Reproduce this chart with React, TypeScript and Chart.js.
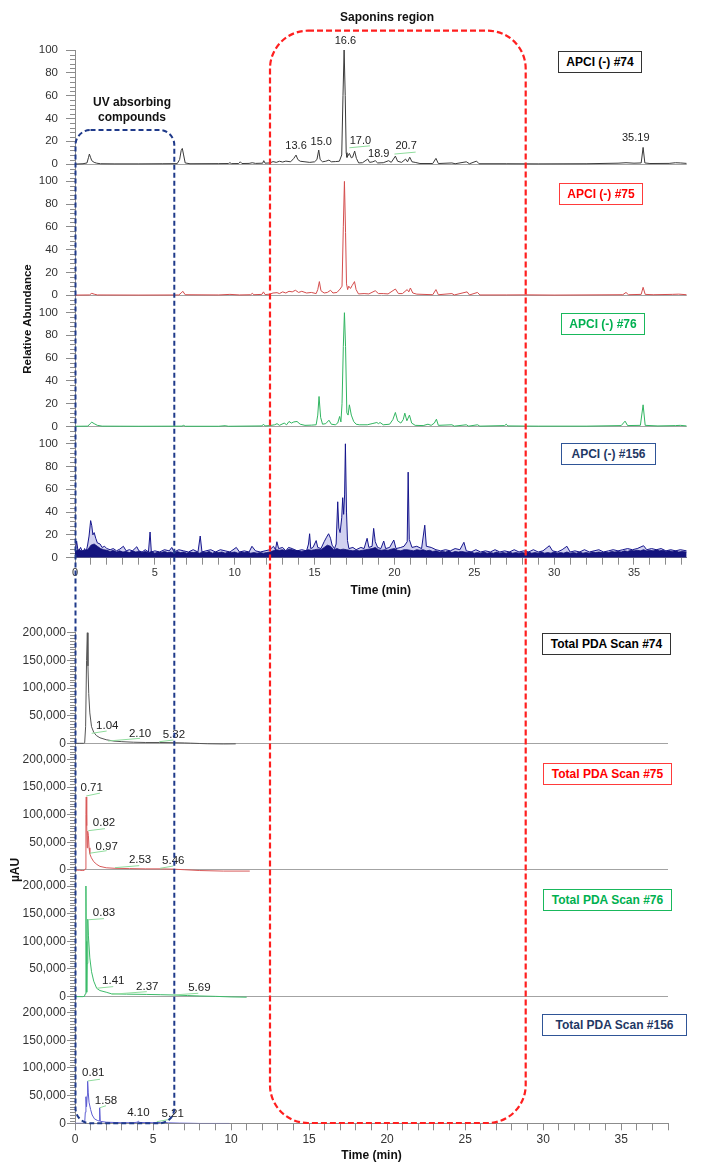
import React, { useEffect, useRef } from 'react';
import { Chart, registerables } from 'chart.js';
Chart.register(...registerables);

const FONT = '"Liberation Sans", Arial, Helvetica, sans-serif';

// ---------- axis tick values ----------
const TIME_MAJOR = [0, 5, 10, 15, 20, 25, 30, 35];
const APCI_MAJOR = [0, 20, 40, 60, 80, 100];
const PDA_MAJOR = [0, 50000, 100000, 150000, 200000];
const TOP_X_MAX = 38.3;
const BOT_X_MAX = 38;

type P = [number, number];

// ---------- APCI (-) traces: [time (min), relative abundance] ----------
const apci74: P[] = [[0,0],[0.5,0.3],[0.75,1],[0.85,6],[0.9,8.8],[0.97,6],[1.05,3],[1.2,1.5],[1.36,0.8],[1.6,0.3],[2.5,0.2],[4,0.2],[5.5,0.3],[6.4,0.4],[6.55,4],[6.65,12],[6.72,13.7],[6.8,8],[6.9,1],[7.2,0.3],[9,0.4],[9.6,0.5],[9.7,1.2],[9.8,0.4],[10.25,0.5],[10.35,2],[10.45,0.5],[10.9,0.6],[11.1,1.2],[11.3,0.6],[11.75,0.8],[11.82,3],[11.9,0.8],[12.2,1],[12.4,2.2],[12.6,1.5],[12.8,2.5],[13.0,1.8],[13.2,2.6],[13.5,2],[13.7,5],[13.84,7.9],[13.95,4],[14.1,2.5],[14.4,2],[14.7,1.5],[15.0,2],[15.15,4],[15.26,12.3],[15.35,4],[15.5,2],[15.7,2.5],[15.9,3.5],[16.05,2],[16.3,2.2],[16.55,2.5],[16.7,8],[16.78,60],[16.85,100],[16.92,60],[16.98,10],[17.03,5.9],[17.18,9.4],[17.3,5.5],[17.38,6],[17.51,11.4],[17.62,5],[17.76,1],[18.0,1.2],[18.33,4.4],[18.45,1.5],[18.65,2],[18.8,3],[18.95,1],[19.3,1.2],[19.64,3],[19.8,1.5],[20.06,7],[20.2,2.5],[20.45,1.5],[20.7,4.4],[20.82,2],[20.96,6],[21.1,2],[21.3,1.5],[21.6,0.5],[22.4,0.5],[22.6,5],[22.75,0.5],[23.6,1],[23.8,0.3],[24.5,2],[24.7,0.3],[25.14,2.6],[25.3,0.3],[27,0.3],[29,0.2],[32,0.3],[34,0.8],[34.5,1.2],[35.0,0.8],[35.45,1],[35.57,14.6],[35.68,1],[36,0.5],[37.2,0.6],[37.6,1.2],[37.9,1],[38.3,0.6]];

const apci75: P[] = [[0,0.2],[0.9,0.3],[1.05,1.7],[1.2,1],[1.4,0.3],[4,0.2],[6.5,0.3],[6.65,2],[6.75,3.5],[6.9,0.5],[9,0.3],[9.7,0.8],[10.3,0.3],[11.0,0.5],[11.1,1.7],[11.2,0.5],[11.7,0.8],[11.8,3],[11.9,0.6],[12.2,1],[12.4,2],[12.65,2.3],[12.8,1.5],[13.0,3],[13.2,2],[13.4,3.5],[13.6,3],[13.8,4.4],[14.0,2.5],[14.2,3.5],[14.5,2],[14.8,2.5],[15.1,1.5],[15.2,5],[15.3,12],[15.4,4],[15.6,2],[15.8,2.5],[16.0,4.4],[16.15,2],[16.4,2.5],[16.6,5.5],[16.72,8],[16.8,60],[16.87,100],[16.94,55],[17.0,10],[17.07,5],[17.14,8],[17.25,6],[17.35,8.5],[17.5,12],[17.6,5],[17.75,1.2],[18.1,1.5],[18.4,1.2],[18.8,4],[19.0,1.5],[19.3,1.5],[19.6,1.2],[20.06,5.5],[20.25,1.5],[20.5,1.5],[20.8,5],[20.9,3],[21.0,6.4],[21.15,2],[21.4,1],[22.4,0.5],[22.6,5],[22.75,0.5],[23.6,1.5],[23.75,0.3],[24.55,3],[24.7,0.3],[25.2,2.5],[25.35,0.3],[27,0.3],[28.2,0.4],[30,0.2],[34.3,0.5],[34.5,2.5],[34.65,0.5],[35.45,0.8],[35.57,7],[35.7,0.8],[36.2,0.5],[37.4,0.8],[37.8,1],[38.3,0.5]];

const apci76: P[] = [[0,0.2],[0.8,0.3],[0.95,2.5],[1.05,3.8],[1.2,2.5],[1.4,1],[1.7,0.3],[4,0.2],[6.7,0.3],[6.8,1],[6.9,0.2],[9.0,0.2],[9.4,0.7],[9.6,0.2],[11.7,0.5],[11.8,2],[11.9,0.5],[12.2,0.8],[12.5,1.5],[12.65,2.5],[12.8,1],[13.1,3],[13.25,1.5],[13.4,4.4],[13.55,3],[13.7,4],[13.9,4.4],[14.1,2],[14.4,1],[14.8,1.2],[15.1,1.5],[15.2,10],[15.28,26.3],[15.38,8],[15.5,2],[15.7,2.5],[15.9,5.5],[16.05,2],[16.3,1.5],[16.45,3],[16.57,8.8],[16.65,4],[16.72,20],[16.8,70],[16.87,100],[16.94,70],[17.02,12],[17.1,10],[17.18,19],[17.3,10],[17.45,4.4],[17.6,2],[17.8,1.5],[18.3,1.5],[18.6,2.5],[18.9,3.5],[19.0,2.5],[19.1,3.5],[19.3,1.5],[19.7,2],[19.9,6],[20.06,12.3],[20.2,5],[20.4,3],[20.55,6],[20.65,11.7],[20.78,5],[20.94,10],[21.08,3],[21.3,1],[21.8,0.8],[22.1,2],[22.3,1],[22.5,3],[22.63,6.4],[22.75,1],[23.6,1.5],[23.75,0.3],[24.5,1.5],[24.65,0.3],[25.2,1.5],[25.35,0.3],[26.9,0.8],[27.0,2],[27.1,0.5],[29,0.3],[32,0.3],[34.2,0.8],[34.44,4.7],[34.6,0.8],[35.4,1],[35.57,19],[35.7,1],[36.5,0.5],[37.6,0.8],[37.9,1],[38.3,0.5]];

const apci156: P[] = [[0,3],[0.1,14.6],[0.2,5],[0.35,9],[0.5,4],[0.6,8],[0.7,5],[0.8,12],[0.88,19],[0.98,32.5],[1.05,28],[1.12,20],[1.2,22],[1.3,17],[1.4,13],[1.57,12],[1.7,9],[1.85,10],[1.99,8],[2.2,7],[2.4,8],[2.6,6],[2.8,7.5],[3.03,10],[3.2,6],[3.4,7],[3.6,6],[3.87,9.6],[4.0,6],[4.2,5],[4.4,7],[4.6,5],[4.7,22.5],[4.78,5],[5.0,6],[5.3,5],[5.6,7],[5.9,6],[6.06,9],[6.2,5],[6.5,7],[6.8,6],[7.1,5],[7.4,7],[7.7,5],[7.84,19],[7.95,5],[8.2,6],[8.5,7],[8.8,5],[9.1,7],[9.4,6],[9.7,5],[10.1,9],[10.3,5],[10.6,6],[10.9,5],[11.08,10],[11.3,6],[11.6,5],[11.9,6],[12.2,7],[12.43,10],[12.55,7],[12.64,14],[12.75,8],[13.0,9],[13.2,6],[13.37,9],[13.6,8],[13.9,6],[14.2,7],[14.5,6],[14.62,12],[14.69,21],[14.76,8],[14.9,9],[15.1,15],[15.2,9],[15.4,8],[15.6,14],[15.75,18],[15.88,21],[16.0,17],[16.1,11],[16.25,8],[16.35,12],[16.45,49],[16.52,26],[16.6,22],[16.7,35],[16.76,52.6],[16.82,38],[16.88,55],[16.93,100],[17.0,40],[17.06,15],[17.15,8],[17.4,9],[17.6,7],[17.9,9],[18.1,8],[18.29,17],[18.4,9],[18.6,10],[18.7,25.7],[18.8,14],[18.95,9],[19.15,8],[19.33,14.6],[19.45,8],[19.7,9],[19.96,15.5],[20.1,8],[20.4,9],[20.6,10],[20.8,14],[20.86,75],[20.93,16],[21.1,9],[21.4,10],[21.7,8],[21.9,28.5],[22.0,10],[22.3,9],[22.6,7],[22.9,6],[23.2,7],[23.5,6],[23.8,8],[24.1,7],[24.35,13.5],[24.5,6],[24.8,5],[25.1,7],[25.4,5],[25.7,6],[26.0,5],[26.3,7],[26.6,5],[26.9,6],[27.2,5],[27.5,7],[27.8,5],[28.1,6],[28.4,5],[28.7,7],[29.0,5],[29.3,6],[29.7,10.5],[29.9,6],[30.2,5],[30.5,7],[30.8,10],[31.0,5],[31.3,6],[31.6,5],[31.9,7],[32.2,5],[32.5,6],[32.8,7],[33.1,5],[33.4,6],[33.7,7],[34.0,6],[34.3,7],[34.6,8],[34.9,7],[35.2,8],[35.6,10.5],[35.8,7],[36.1,8],[36.4,7],[36.7,8],[37.0,6],[37.3,7],[37.6,6],[37.9,7],[38.3,6]];

// dense noise band of the #156 trace (upper envelope)
const apci156Band: P[] = [[0,5.5],[0.2,7],[0.4,6],[0.6,6.5],[0.8,7],[1.0,11],[1.2,12],[1.4,10],[1.6,8],[1.8,7],[2.0,6.5],[2.2,5.5],[2.4,6.5],[2.6,5],[2.8,6],[3.0,5],[3.2,5.5],[3.4,4.5],[3.6,6],[3.8,5],[4.0,5.5],[4.2,4.5],[4.4,5.5],[4.6,4.5],[4.8,5.5],[5.0,4],[5.2,5],[5.4,4.5],[5.6,5.5],[5.8,4.5],[6.0,5],[6.2,4],[6.4,5.5],[6.6,4.5],[6.8,5],[7.0,4],[7.2,5],[7.4,4.5],[7.6,5],[7.8,4],[8.0,5],[8.2,4.5],[8.4,5.5],[8.6,4],[8.8,5],[9.0,4.5],[9.2,5],[9.4,4],[9.6,5],[9.8,4.5],[10.0,5],[10.2,4],[10.4,5],[10.6,4.5],[10.8,5],[11.0,4],[11.2,4.5],[11.4,4],[11.6,4.5],[11.8,4],[12.0,4.5],[12.2,5],[12.4,6],[12.6,7],[12.8,6.5],[13.0,7],[13.2,6],[13.4,7.5],[13.6,7],[13.8,6.5],[14.0,6],[14.2,5.5],[14.4,6],[14.6,7],[14.8,6.5],[15.0,7],[15.2,7.5],[15.4,7],[15.6,9],[15.8,11],[16.0,10],[16.2,7],[16.4,8],[16.6,7],[16.8,7.5],[17.0,7],[17.2,6.5],[17.4,6],[17.6,6.5],[17.8,6],[18.0,6.5],[18.2,7],[18.4,7.5],[18.6,8],[18.8,9],[19.0,7],[19.2,6.5],[19.4,7],[19.6,6.5],[19.8,7.5],[20.0,8],[20.2,6.5],[20.4,6],[20.6,7],[20.8,7],[21.0,6.5],[21.2,6],[21.4,7],[21.6,6.5],[21.8,7],[22.0,6],[22.2,6.5],[22.4,5.5],[22.6,6],[22.8,5],[23.0,5.5],[23.2,5],[23.4,6],[23.6,4.5],[23.8,5.5],[24.0,5],[24.2,5.5],[24.4,5],[24.6,4.5],[24.8,5],[25.0,4],[25.2,4.5],[25.4,4],[25.6,5],[25.8,4],[26.0,4.5],[26.2,4],[26.4,5],[26.6,4],[26.8,4.5],[27.0,4],[27.2,5],[27.4,4],[27.6,4.5],[27.8,4],[28.0,4.5],[28.2,4],[28.4,5],[28.6,4],[28.8,4.5],[29.0,4],[29.2,5],[29.4,4],[29.6,4.5],[29.8,4],[30.0,5],[30.2,4],[30.4,4.5],[30.6,4],[30.8,5],[31.0,4],[31.2,4.5],[31.4,4],[31.6,5],[31.8,4],[32.0,4.5],[32.2,4],[32.4,5],[32.6,4.5],[32.8,5],[33.0,4.5],[33.2,5],[33.4,4.5],[33.6,5.5],[33.8,5],[34.0,5.5],[34.2,5],[34.4,6],[34.6,5.5],[34.8,6.5],[35.0,6],[35.2,6.5],[35.4,6],[35.6,7],[35.8,6],[36.0,6.5],[36.2,6],[36.4,7],[36.6,6],[36.8,6.5],[37.0,5.5],[37.2,6],[37.4,5.5],[37.6,6],[37.8,5],[38.0,5.5],[38.3,5]];

// ---------- Total PDA scan traces: [time (min), µAU] ----------
const pda74: P[] = [[0,0],[0.3,0],[0.55,0],[0.62,1000],[0.68,30000],[0.74,150000],[0.79,203000],[0.83,140000],[0.88,90000],[0.95,55000],[1.06,30000],[1.2,20000],[1.37,14000],[1.6,10000],[2.0,6500],[2.5,4000],[3.0,3000],[3.74,2000],[4.5,1500],[5.4,1500],[6.3,1200],[7.0,700],[7.4,300],[8.0,-300],[8.5,-800],[9.5,-1200],[10.3,-1000]];
const pda75: P[] = [[0,0],[0.3,-500],[0.5,-1000],[0.6,-500],[0.66,2000],[0.7,100000],[0.72,132000],[0.75,80000],[0.78,40000],[0.8,55000],[0.83,70000],[0.86,62000],[0.9,40000],[0.95,29000],[1.05,22000],[1.2,15000],[1.4,10000],[1.6,6500],[2.0,4000],[2.56,3000],[3.5,2500],[4.5,2000],[5.45,2000],[6.3,1500],[7.0,500],[8.0,-1000],[9.5,-2000],[11.2,-2000]];
const pda76: P[] = [[0,0],[0.5,0],[0.6,500],[0.66,5000],[0.7,205000],[0.72,100000],[0.75,8000],[0.78,60000],[0.82,140000],[0.86,110000],[0.95,70000],[1.06,45000],[1.2,28000],[1.39,15000],[1.6,11000],[2.0,8000],[2.35,5000],[3.3,4500],[4.6,4000],[5.5,3500],[6.3,3000],[7.2,2000],[8.0,1200],[9.0,500],[10.0,-500],[11.0,-1000]];
const pda156: P[] = [[0,0],[0.5,0],[0.62,500],[0.66,20000],[0.7,48000],[0.74,30000],[0.78,50000],[0.81,76000],[0.85,55000],[0.9,38000],[1.0,25000],[1.1,15000],[1.25,8000],[1.45,5000],[1.55,4000],[1.58,28000],[1.62,3500],[2.0,2000],[3.0,1000],[3.74,1000],[4.0,2000],[4.06,4000],[4.15,1500],[5.0,1000],[5.5,1500],[6.0,800],[6.7,300],[7.5,0],[8.0,-300],[9.9,-300]];

// ---------- peak labels: text position and optional leader line, in data units ----------
type Ann = { text: string; x: number; y: number; lead?: [number, number, number, number] };
const apci74Labels: Ann[] = [
  { text: '16.6', x: 16.93, y: 108 },
  { text: '13.6', x: 13.84, y: 16 },
  { text: '15.0', x: 15.42, y: 19.5 },
  { text: '17.0', x: 17.87, y: 20, lead: [17.18, 14.3, 18.47, 16] },
  { text: '18.9', x: 19.02, y: 8.8 },
  { text: '20.7', x: 20.73, y: 15.8, lead: [20.0, 8.8, 21.33, 10.5] },
  { text: '35.19', x: 35.11, y: 23 },
];
const pda74Labels: Ann[] = [
  { text: '1.04', x: 2.07, y: 31300, lead: [1.07, 18100, 2.03, 22200] },
  { text: '2.10', x: 4.17, y: 16300, lead: [2.13, 4200, 4.17, 9000] },
  { text: '5.32', x: 6.34, y: 15000, lead: [5.4, 2900, 6.3, 6000] },
];
const pda75Labels: Ann[] = [
  { text: '0.71', x: 1.07, y: 147700, lead: [0.72, 133800, 1.6, 139000] },
  { text: '0.82', x: 1.86, y: 84400, lead: [0.85, 71000, 1.92, 74700] },
  { text: '0.97', x: 2.03, y: 42000, lead: [0.92, 30200, 2.03, 34900] },
  { text: '2.53', x: 4.17, y: 18000, lead: [2.56, 4200, 4.12, 7800] },
  { text: '5.46', x: 6.3, y: 16800, lead: [5.45, 3000, 6.3, 7200] },
];
const pda76Labels: Ann[] = [
  { text: '0.83', x: 1.86, y: 151000, lead: [0.85, 139000, 1.86, 141000] },
  { text: '1.41', x: 2.45, y: 28400, lead: [1.39, 15200, 2.45, 18100] },
  { text: '2.37', x: 4.63, y: 18000, lead: [2.35, 4300, 4.6, 9000] },
  { text: '5.69', x: 7.97, y: 16300, lead: [6.3, 3000, 7.9, 6100] },
];
const pda156Labels: Ann[] = [
  { text: '0.81', x: 1.17, y: 90400, lead: [0.81, 76500, 1.6, 79600] },
  { text: '1.58', x: 1.99, y: 40900, lead: [1.6, 28200, 1.99, 31800] },
  { text: '4.10', x: 4.06, y: 19200 },
  { text: '5.21', x: 6.26, y: 16300, lead: [5.24, 2900, 6.09, 7200] },
];

// ---------- plugins ----------
const peakLabelsPlugin = {
  id: 'peakLabels',
  afterDatasetsDraw(chart: any, _args: any, opts: any) {
    const { ctx } = chart;
    const xs = chart.scales.x;
    ctx.save();
    for (const g of opts.groups || []) {
      const ys = chart.scales[g.axis];
      for (const a of g.items as Ann[]) {
        if (a.lead) {
          ctx.strokeStyle = '#8fdc9c';
          ctx.lineWidth = 1;
          ctx.beginPath();
          ctx.moveTo(xs.getPixelForValue(a.lead[0]), ys.getPixelForValue(a.lead[1]));
          ctx.lineTo(xs.getPixelForValue(a.lead[2]), ys.getPixelForValue(a.lead[3]));
          ctx.stroke();
        }
        ctx.fillStyle = '#222';
        ctx.font = `${opts.size}px ${FONT}`;
        ctx.textAlign = 'center';
        ctx.textBaseline = 'middle';
        ctx.fillText(a.text, xs.getPixelForValue(a.x), ys.getPixelForValue(a.y));
      }
    }
    ctx.restore();
  },
};

const minorTicksPlugin = {
  id: 'minorTicks',
  afterDraw(chart: any, _args: any, opts: any) {
    const ctx = chart.ctx;
    ctx.save();
    ctx.strokeStyle = '#8c8c8c';
    ctx.lineWidth = 1;
    for (const spec of opts.axes || []) {
      const s = chart.scales[spec.id];
      const start = Math.ceil(s.min / spec.step) * spec.step;
      for (let v = start; v <= s.max + 1e-6; v += spec.step) {
        if (spec.major.includes(v)) continue;
        const y = Math.round(s.getPixelForValue(v)) + 0.5;
        ctx.beginPath();
        ctx.moveTo(s.right - spec.len, y);
        ctx.lineTo(s.right, y);
        ctx.stroke();
      }
    }
    ctx.restore();
  },
};

const fmtComma = (v: number) => v.toLocaleString('en-US');

function yScale(o: { stack: string; order: number; min: number; max: number; major: number[]; size: number; pad: number; len: number; fmt: (v: number) => string }) {
  return {
    type: 'linear',
    position: 'left',
    stack: o.stack,
    stackWeight: o.max - o.min,
    weight: o.order,
    min: o.min,
    max: o.max,
    afterBuildTicks: (s: any) => {
      s.ticks = o.major.map((v) => ({ value: v }));
    },
    afterFit: (s: any) => {
      s.width = 75;
    },
    ticks: {
      autoSkip: false,
      padding: o.pad,
      color: '#333',
      font: { family: FONT, size: o.size },
      callback: (v: number) => (o.major.includes(v) ? o.fmt(v) : ''),
    },
    grid: {
      color: (c: any) => (c.tick && c.tick.value === 0 ? '#a3a3a3' : 'rgba(0,0,0,0)'),
      tickColor: '#8c8c8c',
      tickLength: o.len,
      lineWidth: 1,
    },
    border: { display: true, color: '#8c8c8c', width: 1 },
  };
}

function xScale(max: number, size: number) {
  return {
    type: 'linear',
    position: 'bottom',
    min: 0,
    max,
    afterBuildTicks: (s: any) => {
      const t: { value: number }[] = [];
      for (let v = 0; v <= Math.floor(max); v++) t.push({ value: v });
      s.ticks = t;
    },
    ticks: {
      autoSkip: false,
      maxRotation: 0,
      padding: 2,
      color: '#333',
      font: { family: FONT, size },
      callback: (v: number) => (TIME_MAJOR.includes(v) ? String(v) : ''),
    },
    grid: { drawOnChartArea: false, tickColor: '#8c8c8c', tickLength: 7 },
    border: { display: true, color: '#8c8c8c' },
    title: {
      display: true,
      text: 'Time (min)',
      color: '#111',
      font: { family: FONT, size: 12, weight: 'bold' },
      padding: { top: 2, bottom: 2 },
    },
  };
}

const line = (data: P[], axis: string, color: string, extra: any = {}) => ({
  data: data.map(([x, y]) => ({ x, y })),
  yAxisID: axis,
  borderColor: color,
  borderWidth: 1,
  pointRadius: 0,
  tension: 0,
  fill: false,
  ...extra,
});

function topConfig(): any {
  const apciAxis = (order: number, min: number) =>
    yScale({ stack: 'apci', order, min, max: 100, major: APCI_MAJOR, size: 11.5, pad: 8, len: 9, fmt: (v) => String(v) });
  return {
    type: 'line',
    data: {
      datasets: [
        line(apci156Band, 'a156', '#12127a', { fill: 'origin', backgroundColor: '#14147e', borderWidth: 0.8 }),
        line(apci156, 'a156', '#16168c', { fill: 'origin', backgroundColor: 'rgba(90,90,200,0.28)' }),
        line(apci74, 'a74', '#3a3a3a'),
        line(apci75, 'a75', '#d44d4d'),
        line(apci76, 'a76', '#32b561'),
      ],
    },
    options: {
      responsive: false,
      animation: false,
      devicePixelRatio: 1,
      events: [],
      layout: { padding: { left: 0, right: 15.3, top: 50, bottom: 9.7 } },
      plugins: {
        legend: { display: false },
        tooltip: { enabled: false },
        peakLabels: { size: 11, groups: [{ axis: 'a74', items: apci74Labels }] },
        minorTicks: {
          axes: ['a74', 'a75', 'a76', 'a156'].map((id) => ({ id, step: 4, major: APCI_MAJOR, len: 5 })),
        },
      },
      scales: {
        x: xScale(TOP_X_MAX, 11),
        a74: apciAxis(4, -15),
        a75: apciAxis(3, -15),
        a76: apciAxis(2, -15),
        a156: apciAxis(1, 0),
      },
    },
    plugins: [peakLabelsPlugin, minorTicksPlugin],
  };
}

function bottomConfig(): any {
  const pdaAxis = (order: number, min: number) =>
    yScale({ stack: 'pda', order, min, max: 200000, major: PDA_MAJOR, size: 12, pad: 1, len: 8, fmt: fmtComma });
  const x = xScale(BOT_X_MAX, 12);
  x.title.padding = { top: 0, bottom: 2 };
  return {
    type: 'line',
    data: {
      datasets: [
        line(pda74, 'p74', '#555555'),
        line(pda75, 'p75', '#d85a5a'),
        line(pda76, 'p76', '#3dbb6a'),
        line(pda156, 'p156', '#5c5cd2'),
      ],
    },
    options: {
      responsive: false,
      animation: false,
      devicePixelRatio: 1,
      events: [],
      layout: { padding: { left: 0, right: 34, top: 22.7, bottom: 10.9 } },
      plugins: {
        legend: { display: false },
        tooltip: { enabled: false },
        peakLabels: {
          size: 11.5,
          groups: [
            { axis: 'p74', items: pda74Labels },
            { axis: 'p75', items: pda75Labels },
            { axis: 'p76', items: pda76Labels },
            { axis: 'p156', items: pda156Labels },
          ],
        },
        minorTicks: {
          axes: ['p74', 'p75', 'p76', 'p156'].map((id) => ({ id, step: 5000, major: PDA_MAJOR, len: 5 })),
        },
      },
      scales: {
        x,
        p74: pdaAxis(4, -29000),
        p75: pdaAxis(3, -29000),
        p76: pdaAxis(2, -29000),
        p156: pdaAxis(1, 0),
      },
    },
    plugins: [peakLabelsPlugin, minorTicksPlugin],
  };
}

// ---------- panel name boxes ----------
const panelBoxes = [
  { text: 'APCI (-) #74', left: 558, top: 51, width: 84, color: '#000', border: '#333' },
  { text: 'APCI (-) #75', left: 559, top: 183, width: 84, color: '#ff0000', border: '#ff3b3b' },
  { text: 'APCI (-) #76', left: 561, top: 313, width: 84, color: '#00b050', border: '#19b85c' },
  { text: 'APCI (-) #156', left: 561, top: 443, width: 95, color: '#1f3864', border: '#2f5597' },
  { text: 'Total PDA Scan #74', left: 542, top: 633, width: 129, color: '#000', border: '#333' },
  { text: 'Total PDA Scan #75', left: 543, top: 763, width: 129, color: '#ff0000', border: '#ff3b3b' },
  { text: 'Total PDA Scan #76', left: 543, top: 889, width: 129, color: '#00b050', border: '#19b85c' },
  { text: 'Total PDA Scan #156', left: 542, top: 1014, width: 145, color: '#1f3864', border: '#2f5597' },
];

export default function App() {
  const topRef = useRef<HTMLCanvasElement>(null);
  const botRef = useRef<HTMLCanvasElement>(null);

  useEffect(() => {
    const c1 = new Chart(topRef.current as HTMLCanvasElement, topConfig());
    const c2 = new Chart(botRef.current as HTMLCanvasElement, bottomConfig());
    return () => {
      c1.destroy();
      c2.destroy();
    };
  }, []);

  const bold: React.CSSProperties = { fontFamily: FONT, fontWeight: 'bold', fontSize: 12, color: '#111' };

  return (
    <div style={{ position: 'absolute', left: 0, top: 0, width: 702, height: 1176, background: '#fff', overflow: 'hidden', fontFamily: FONT }}>
      <canvas ref={topRef} width={702} height={610} style={{ position: 'absolute', left: 0, top: 0 }} />
      <canvas ref={botRef} width={702} height={566} style={{ position: 'absolute', left: 0, top: 610 }} />

      <div style={{ ...bold, position: 'absolute', left: 287, top: 10, width: 200, lineHeight: '14px', textAlign: 'center' }}>Saponins region</div>
      <div style={{ ...bold, position: 'absolute', left: 62, top: 95, width: 140, lineHeight: '14.6px', textAlign: 'center' }}>
        UV absorbing
        <br />
        compounds
      </div>
      <div style={{ ...bold, fontSize: 11.5, position: 'absolute', left: -53, top: 311, width: 160, height: 16, lineHeight: '16px', textAlign: 'center', transform: 'rotate(-90deg)' }}>
        Relative Abundance
      </div>
      <div style={{ ...bold, position: 'absolute', left: -5, top: 862, width: 40, height: 16, lineHeight: '16px', textAlign: 'center', transform: 'rotate(-90deg)' }}>
        µAU
      </div>

      {panelBoxes.map((b) => (
        <div
          key={b.text}
          style={{
            position: 'absolute',
            left: b.left,
            top: b.top,
            width: b.width,
            height: 22,
            boxSizing: 'border-box',
            border: `1.3px solid ${b.border}`,
            background: '#fff',
            display: 'flex',
            alignItems: 'center',
            justifyContent: 'center',
            fontFamily: FONT,
            fontWeight: 'bold',
            fontSize: 12,
            color: b.color,
            whiteSpace: 'nowrap',
          }}
        >
          {b.text}
        </div>
      ))}

      <svg width={702} height={1176} style={{ position: 'absolute', left: 0, top: 0, pointerEvents: 'none' }}>
        <rect x={75.5} y={130} width={98.8} height={993.3} rx={15} ry={15} fill="none" stroke="#1f3a8a" strokeWidth={2} strokeDasharray="5 3" />
        <rect x={270} y={30.7} width={255.7} height={1092.3} rx={38} ry={38} fill="none" stroke="#ff1f1f" strokeWidth={2.2} strokeDasharray="6 3" />
      </svg>
    </div>
  );
}
